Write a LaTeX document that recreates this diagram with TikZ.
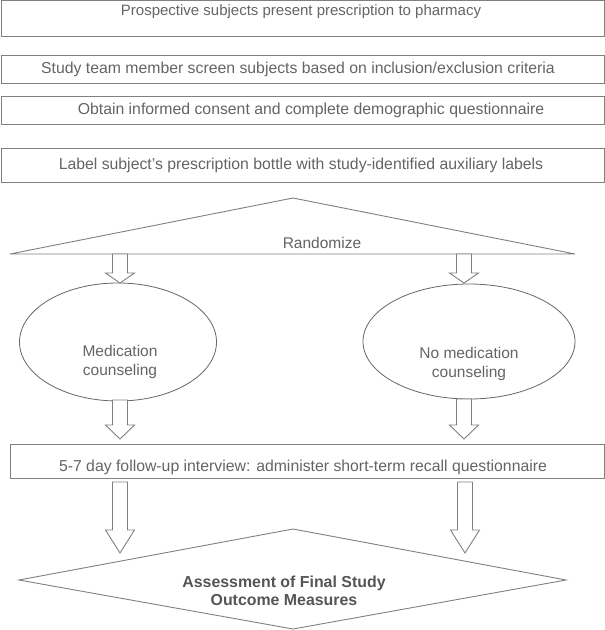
\documentclass[tikz,border=0pt]{standalone}
\usepackage{fontspec}
\setmainfont{Liberation Sans}
\usetikzlibrary{shapes.geometric}
\definecolor{linegray}{RGB}{128,128,128}
\definecolor{textgray}{RGB}{100,100,100}
\definecolor{boldgray}{RGB}{85,85,85}
\newcommand\blockarr[4]{%
  \draw[blockst] ({#1-7.5},#2) -- ({#1-7.5},#3) -- ({#1-14.5},#3) -- (#1,#4)
     -- ({#1+14.5},#3) -- ({#1+7.5},#3) -- ({#1+7.5},#2) -- cycle;}
\begin{document}
\begin{tikzpicture}[x=1pt,y=-1pt,
  every node/.style={text=textgray, font=\fontsize{15}{18.5}\selectfont, inner sep=0pt},
  bigtext/.style={font=\fontsize{15.8}{19}\selectfont},
  midtext/.style={font=\fontsize{15.5}{19}\selectfont},
  boxst/.style={draw=linegray, line width=1pt, rectangle, minimum width=603pt},
  ellst/.style={draw=linegray!80!black, line width=0.8pt, ellipse},
  shapest/.style={draw=linegray, line width=0.9pt, fill=white},
  blockst/.style={draw=linegray, line width=0.9pt, fill=white}]
\useasboundingbox (0,0) rectangle (605,630);

% boxes
\node[boxst, minimum height=36pt] (b1) at (302.5,18.8) {};
\node (t1) at (301,12) {Prospective subjects present prescription to pharmacy};
\node[boxst, minimum height=28pt] (b2) at (302.5,69) {};
\node[bigtext] (t2) at (298,69) {Study team member screen subjects based on inclusion/exclusion criteria};
\node[boxst, minimum height=28pt] (b3) at (302.5,110) {};
\node[bigtext] (t3) at (311,110) {Obtain informed consent and complete demographic questionnaire};
\node[boxst, minimum height=34pt] (b4) at (302.5,165) {};
\node[bigtext] (t4) at (301,165) {Label subject’s prescription bottle with study-identified auxiliary labels};

% randomize triangle
\coordinate (rl) at (10,254);
\coordinate (rt) at (293,198);
\coordinate (rr) at (575,254);
\draw[shapest] (rl) -- (rt) -- (rr) -- cycle;
\node[midtext] (rand) at (322,243) {Randomize};

% ellipses
\node[ellst, minimum width=197pt, minimum height=118pt] (e1) at (118,342) {};
\node[midtext, align=center] (e1t) at (120,362) {Medication\\counseling};
\node[ellst, minimum width=212pt, minimum height=115pt] (e2) at (469,341.5) {};
\node[midtext, align=center] (e2t) at (469,364) {No medication\\counseling};

% arrows randomize -> ellipses
\blockarr{120}{254}{273}{283}
\blockarr{464}{254}{273}{283}

% arrows ellipses -> follow-up
\blockarr{120}{400}{425}{439}
\blockarr{464}{399}{425}{439}

% follow-up box
\node[draw=linegray, line width=1pt, minimum width=594pt, minimum height=34pt] (b5) at (307,461) {};
\node[bigtext] (t5) at (303,467) {5-7 day follow-up interview: administer short-term recall questionnaire};

% arrows follow-up -> diamond
\blockarr{120}{482}{530}{553}
\blockarr{465}{482}{530}{553}

% diamond
\coordinate (dl) at (19,580);
\coordinate (dt) at (293,529);
\coordinate (dr) at (566,580);
\coordinate (db) at (293,629);
\draw[shapest] (dl) -- (dt) -- (dr) -- (db) -- cycle;
\node[align=center, text=boldgray, font=\fontsize{15.9}{18}\selectfont\bfseries] (dtext) at (284,591) {Assessment of Final Study\\Outcome Measures};
\end{tikzpicture}
\end{document}
